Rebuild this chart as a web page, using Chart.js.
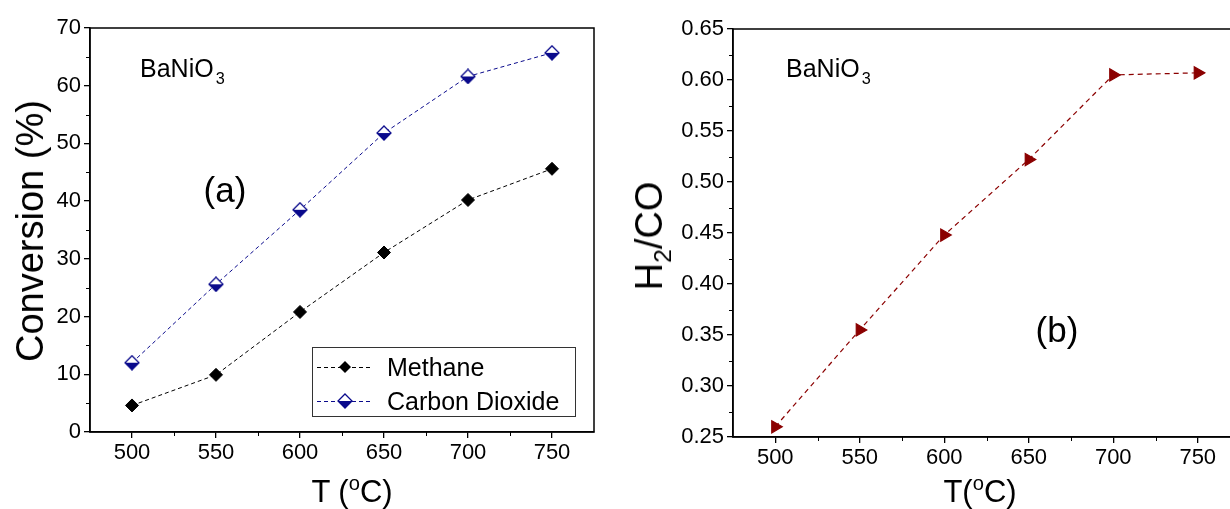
<!DOCTYPE html>
<html>
<head>
<meta charset="utf-8">
<script src="https://cdn.jsdelivr.net/npm/chart.js@4.4.0/dist/chart.umd.min.js"></script>
<style>
body { margin: 0; width: 1230px; height: 509px; overflow: hidden; background: #fff; position: relative;
       font-family: "Liberation Sans", Arial, sans-serif; color: #000; }
.box { position: absolute; top: 0; height: 509px; }
.txt { position: absolute; white-space: nowrap; line-height: 1; }
.rot { transform: translate(-50%, -50%) rotate(-90deg); }
.ctr { transform: translate(-50%, -50%); }
sub, sup { font-size: 65%; line-height: 0; }
sub.low { vertical-align: -0.45em; margin-left: 2px; }
#legend { position: absolute; left: 312px; top: 347px; width: 262px; height: 68px; border: 1px solid #333; background: #fff; }
.row { position: absolute; left: 4px; height: 30px; display: flex; align-items: center; font-size: 25px; }
.row canvas { margin-right: 14px; }
</style>
</head>
<body>
<div class="box" style="left:0;width:620px;"><canvas id="convChart"></canvas></div>
<div class="box" style="left:640px;width:620px;"><canvas id="ratioChart"></canvas></div>

<div class="txt rot" style="left:30px;top:231px;font-size:38px;">Conversion (%)</div>
<div class="txt ctr" style="left:352px;top:491px;font-size:31px;">T (<sup>o</sup>C)</div>
<div class="txt" style="left:140px;top:56px;font-size:25px;">BaNiO<sub class="low">3</sub></div>
<div class="txt ctr" style="left:225px;top:189px;font-size:35px;">(a)</div>

<div class="txt rot" style="left:649px;top:236px;font-size:38px;">H<sub>2</sub>/CO</div>
<div class="txt ctr" style="left:980px;top:491px;font-size:31px;">T(<sup>o</sup>C)</div>
<div class="txt" style="left:786px;top:56px;font-size:25px;">BaNiO<sub class="low">3</sub></div>
<div class="txt ctr" style="left:1057px;top:329px;font-size:35px;">(b)</div>

<div id="legend">
  <div class="row" style="top:4px;"><canvas id="legMethane" width="56" height="30"></canvas>Methane</div>
  <div class="row" style="top:38px;"><canvas id="legCo2" width="56" height="30"></canvas>Carbon Dioxide</div>
</div>

<script>
// data
const temps = [500, 550, 600, 650, 700, 750];
const methane = [4.6, 9.9, 20.8, 31.1, 40.2, 45.6];
const carbonDioxide = [12.0, 25.6, 38.5, 51.8, 61.6, 65.7];
const h2co = [0.260, 0.355, 0.448, 0.522, 0.605, 0.607];

// axis ticks
const xTicks = [500, 550, 600, 650, 700, 750];
const xMinor = [525, 575, 625, 675, 725];
const convTicks = [0, 10, 20, 30, 40, 50, 60, 70];
const convMinor = [5, 15, 25, 35, 45, 55, 65];
const ratioTicks = [0.25, 0.30, 0.35, 0.40, 0.45, 0.50, 0.55, 0.60, 0.65];
const ratioMinor = [0.275, 0.325, 0.375, 0.425, 0.475, 0.525, 0.575, 0.625];

const FONT = '"Liberation Sans", Arial, sans-serif';
const NAVY = '#0a0a8c';
const DARKRED = '#8b0000';

// half filled diamond used for carbon dioxide
function halfDiamond(size) {
    const c = document.createElement('canvas');
    c.width = size; c.height = size;
    const g = c.getContext('2d');
    const h = size / 2;
    g.beginPath();
    g.moveTo(h, 1); g.lineTo(size - 1, h); g.lineTo(h, size - 1); g.lineTo(1, h); g.closePath();
    g.fillStyle = '#fff'; g.fill();
    g.beginPath();
    g.moveTo(1, h); g.lineTo(size - 1, h); g.lineTo(h, size - 1); g.closePath();
    g.fillStyle = NAVY; g.fill();
    g.beginPath();
    g.moveTo(h, 1); g.lineTo(size - 1, h); g.lineTo(h, size - 1); g.lineTo(1, h); g.closePath();
    g.strokeStyle = NAVY; g.lineWidth = 1.3; g.stroke();
    return c;
}
const co2Marker = halfDiamond(16);

// frame round the plot area plus minor ticks
const framePlugin = {
    id: 'frame',
    afterDraw(chart, args, opts) {
        const a = chart.chartArea;
        const ctx = chart.ctx;
        ctx.save();
        ctx.strokeStyle = '#000';
        ctx.lineWidth = 1.5;
        ctx.strokeRect(a.left, a.top, a.right - a.left, a.bottom - a.top);
        ctx.lineWidth = 1;
        ctx.beginPath();
        opts.xMinor.forEach(v => {
            const px = Math.round(chart.scales.x.getPixelForValue(v)) + 0.5;
            ctx.moveTo(px, a.bottom); ctx.lineTo(px, a.bottom + 4);
        });
        opts.yMinor.forEach(v => {
            const py = Math.round(chart.scales.y.getPixelForValue(v)) + 0.5;
            ctx.moveTo(a.left, py); ctx.lineTo(a.left - 4, py);
        });
        ctx.stroke();
        ctx.restore();
    }
};

function axes(yMin, yMax, yTicks, yWidth, xHeight, fmt) {
    return {
        x: {
            type: 'linear', min: 475, max: 775,
            afterBuildTicks: s => { s.ticks = xTicks.map(v => ({ value: v })); },
            afterFit: s => { s.height = xHeight; },
            grid: { drawOnChartArea: false, drawTicks: true, tickLength: 6, color: '#000', lineWidth: 1.3 },
            border: { display: true, color: '#000', width: 1.5 },
            ticks: { color: '#000', font: { family: FONT, size: 22 }, padding: 2, maxRotation: 0 }
        },
        y: {
            min: yMin, max: yMax,
            afterBuildTicks: s => { s.ticks = yTicks.map(v => ({ value: v })); },
            afterFit: s => { s.width = yWidth; },
            grid: { drawOnChartArea: false, drawTicks: true, tickLength: 6, color: '#000', lineWidth: 1.3 },
            border: { display: true, color: '#000', width: 1.5 },
            ticks: { color: '#000', font: { family: FONT, size: 22 }, padding: 3, callback: fmt }
        }
    };
}

function points(ys) {
    return temps.map((t, i) => ({ x: t, y: ys[i] }));
}

function initCharts() {
    new Chart(document.getElementById('convChart'), {
        type: 'line',
        data: {
            datasets: [
                {
                    label: 'Methane',
                    data: points(methane),
                    borderColor: '#000', borderWidth: 1, borderDash: [4, 3],
                    pointStyle: 'rectRot', pointRadius: 6.5, pointBackgroundColor: '#000', pointBorderColor: '#000',
                    tension: 0
                },
                {
                    label: 'Carbon Dioxide',
                    data: points(carbonDioxide),
                    borderColor: NAVY, borderWidth: 1, borderDash: [4, 3],
                    pointStyle: co2Marker, pointRadius: 8,
                    tension: 0
                }
            ]
        },
        options: {
            responsive: false,
            animation: false,
            layout: { autoPadding: false, padding: { top: 28, right: 26, left: 0, bottom: 0 } },
            plugins: {
                legend: { display: false },
                tooltip: { enabled: false },
                frame: { xMinor: xMinor, yMinor: convMinor }
            },
            scales: axes(0, 70, convTicks, 90, 77, v => String(v))
        },
        plugins: [framePlugin]
    });

    new Chart(document.getElementById('ratioChart'), {
        type: 'line',
        data: {
            datasets: [
                {
                    label: 'H2/CO',
                    data: points(h2co),
                    borderColor: DARKRED, borderWidth: 1.2, borderDash: [5, 4],
                    pointStyle: 'triangle', pointRotation: 90, pointRadius: 7,
                    pointBackgroundColor: DARKRED, pointBorderColor: DARKRED,
                    tension: 0
                }
            ]
        },
        options: {
            responsive: false,
            animation: false,
            layout: { autoPadding: false, padding: { top: 29, right: 20, left: 0, bottom: 0 } },
            plugins: {
                legend: { display: false },
                tooltip: { enabled: false },
                frame: { xMinor: xMinor, yMinor: ratioMinor }
            },
            scales: axes(0.25, 0.65, ratioTicks, 93, 72, v => v.toFixed(2))
        },
        plugins: [framePlugin]
    });

    // legend samples
    function sample(id, color, drawMarker) {
        const g = document.getElementById(id).getContext('2d');
        g.strokeStyle = color; g.lineWidth = 1; g.setLineDash([4, 3]);
        g.beginPath(); g.moveTo(0, 15.5); g.lineTo(56, 15.5); g.stroke();
        g.setLineDash([]);
        drawMarker(g);
    }
    sample('legMethane', '#000', g => {
        g.fillStyle = '#000';
        g.beginPath(); g.moveTo(28, 9); g.lineTo(34, 15); g.lineTo(28, 21); g.lineTo(22, 15); g.closePath(); g.fill();
    });
    sample('legCo2', NAVY, g => { g.drawImage(co2Marker, 20, 7); });
}

document.getElementById('convChart').width = 620;
document.getElementById('convChart').height = 509;
document.getElementById('ratioChart').width = 620;
document.getElementById('ratioChart').height = 509;
initCharts();
</script>
</body>
</html>
